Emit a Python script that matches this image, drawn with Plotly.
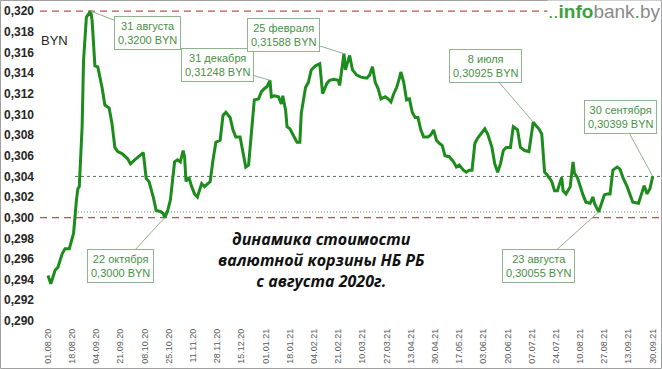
import plotly.graph_objects as go

# ---------------- data ----------------
dates = [
    "2020-08-01", "2020-08-03", "2020-08-06", "2020-08-08", "2020-08-11", "2020-08-13", "2020-08-16",
    "2020-08-19", "2020-08-21", "2020-08-22", "2020-08-23", "2020-08-25", "2020-08-26", "2020-08-28",
    "2020-08-29", "2020-08-31",
    "2020-09-01", "2020-09-02", "2020-09-03", "2020-09-05", "2020-09-08", "2020-09-10", "2020-09-13",
    "2020-09-15", "2020-09-17", "2020-09-19", "2020-09-22", "2020-09-26", "2020-09-28",
    "2020-10-01", "2020-10-04", "2020-10-07", "2020-10-09", "2020-10-11", "2020-10-14", "2020-10-16",
    "2020-10-19", "2020-10-21", "2020-10-22", "2020-10-24", "2020-10-26", "2020-10-28", "2020-10-29",
    "2020-10-31",
    "2020-11-02", "2020-11-04", "2020-11-05", "2020-11-06", "2020-11-08", "2020-11-10", "2020-11-12",
    "2020-11-14", "2020-11-17", "2020-11-19", "2020-11-23", "2020-11-25", "2020-11-27", "2020-11-30",
    "2020-12-02", "2020-12-04", "2020-12-07", "2020-12-09", "2020-12-11", "2020-12-14", "2020-12-16",
    "2020-12-18", "2020-12-20", "2020-12-22", "2020-12-24", "2020-12-27", "2020-12-29", "2020-12-31",
    "2021-01-02", "2021-01-04", "2021-01-05", "2021-01-07", "2021-01-10", "2021-01-12", "2021-01-13",
    "2021-01-15", "2021-01-16", "2021-01-18", "2021-01-20", "2021-01-23", "2021-01-25", "2021-01-26",
    "2021-01-29", "2021-01-31",
    "2021-02-02", "2021-02-05", "2021-02-08", "2021-02-10", "2021-02-13", "2021-02-15", "2021-02-18",
    "2021-02-21", "2021-02-22", "2021-02-25", "2021-02-26", "2021-02-28",
    "2021-03-01", "2021-03-03", "2021-03-06", "2021-03-09", "2021-03-13", "2021-03-15", "2021-03-17",
    "2021-03-19", "2021-03-21", "2021-03-23", "2021-03-26", "2021-03-28", "2021-03-30",
    "2021-04-01", "2021-04-03", "2021-04-05", "2021-04-06", "2021-04-08", "2021-04-10", "2021-04-12",
    "2021-04-14", "2021-04-16", "2021-04-18", "2021-04-20", "2021-04-22", "2021-04-25", "2021-04-27",
    "2021-04-29",
    "2021-05-01", "2021-05-03", "2021-05-05", "2021-05-07", "2021-05-10", "2021-05-13", "2021-05-15",
    "2021-05-17", "2021-05-20", "2021-05-22", "2021-05-24", "2021-05-26", "2021-05-28", "2021-05-30",
    "2021-06-02", "2021-06-04", "2021-06-06", "2021-06-09", "2021-06-11", "2021-06-13", "2021-06-15",
    "2021-06-17", "2021-06-19", "2021-06-22", "2021-06-24", "2021-06-27", "2021-06-29",
    "2021-07-02", "2021-07-05", "2021-07-08", "2021-07-10", "2021-07-12", "2021-07-14", "2021-07-16",
    "2021-07-18", "2021-07-21", "2021-07-23", "2021-07-25", "2021-07-28", "2021-07-29", "2021-07-31",
    "2021-08-03", "2021-08-05", "2021-08-06", "2021-08-08", "2021-08-10", "2021-08-12", "2021-08-14",
    "2021-08-17", "2021-08-19", "2021-08-20", "2021-08-23", "2021-08-25", "2021-08-27", "2021-08-29",
    "2021-08-31",
    "2021-09-02", "2021-09-05", "2021-09-07", "2021-09-09", "2021-09-12", "2021-09-14", "2021-09-16",
    "2021-09-20", "2021-09-22", "2021-09-24", "2021-09-26", "2021-09-28", "2021-09-30",
]
basket = [
    0.2944, 0.2936, 0.2949, 0.2952, 0.2965, 0.2970, 0.2970,
    0.2985, 0.3017, 0.3028, 0.3030, 0.3088, 0.3152, 0.3194,
    0.3196, 0.3200,
    0.3191, 0.3172, 0.3147, 0.3146, 0.3126, 0.3109, 0.3106,
    0.3091, 0.3068, 0.3064, 0.3062, 0.3057, 0.3052,
    0.3056, 0.3060, 0.3063, 0.3038, 0.3035, 0.3020, 0.3007,
    0.3006, 0.3004, 0.3000, 0.3006, 0.3017, 0.3039, 0.3054,
    0.3056,
    0.3054, 0.3065, 0.3059, 0.3035, 0.3039, 0.3030, 0.3023,
    0.3020, 0.3033, 0.3030, 0.3035, 0.3056, 0.3073, 0.3075,
    0.3099, 0.3102, 0.3097, 0.3085, 0.3078, 0.3078, 0.3065,
    0.3049, 0.3051, 0.3081, 0.3114, 0.3115, 0.3122, 0.31248,
    0.3127, 0.3133, 0.3117, 0.3118, 0.3117, 0.3110, 0.3118,
    0.3104, 0.3088, 0.3086, 0.3081, 0.3073, 0.3073, 0.3101,
    0.3126, 0.3131,
    0.3143, 0.3147, 0.3149, 0.3120, 0.3130, 0.3133, 0.3134,
    0.3133, 0.3128, 0.31588, 0.3143, 0.3151,
    0.3157, 0.3143, 0.3138, 0.3136, 0.3135, 0.3138, 0.3146,
    0.3131, 0.3125, 0.3115, 0.3117, 0.3115, 0.3112,
    0.3120, 0.3126, 0.3135, 0.3141, 0.3131, 0.3114, 0.3115,
    0.3102, 0.3097, 0.3097, 0.3085, 0.3078, 0.3078, 0.3080,
    0.3085,
    0.3075, 0.3072, 0.3070, 0.3060, 0.3059, 0.3054, 0.3049,
    0.3051, 0.3046, 0.3044, 0.3046, 0.3046, 0.3072, 0.3077,
    0.3083, 0.3086, 0.3081, 0.3068, 0.3052, 0.3044, 0.3052,
    0.3065, 0.3068, 0.3068, 0.3088, 0.3085, 0.3068,
    0.3065, 0.3064, 0.30925, 0.3089, 0.3086, 0.3081, 0.3044,
    0.3041, 0.3035, 0.3026, 0.3026, 0.3039, 0.3026, 0.3023,
    0.3030, 0.3054, 0.3043, 0.3039, 0.3030, 0.3022, 0.3015,
    0.3014, 0.3020, 0.3014, 0.30055, 0.3014, 0.3022, 0.3023,
    0.3023,
    0.3046, 0.3049, 0.3047, 0.3039, 0.3030, 0.3023, 0.3015,
    0.3014, 0.3023, 0.3031, 0.3023, 0.3028, 0.30399,
]

tick_dates = [
    "2020-08-01", "2020-08-18", "2020-09-04", "2020-09-21", "2020-10-08", "2020-10-25",
    "2020-11-11", "2020-11-28", "2020-12-15", "2021-01-01", "2021-01-18", "2021-02-04",
    "2021-02-21", "2021-03-10", "2021-03-27", "2021-04-13", "2021-04-30", "2021-05-17",
    "2021-06-03", "2021-06-20", "2021-07-07", "2021-07-24", "2021-08-10", "2021-08-27",
    "2021-09-13", "2021-09-30",
]
tick_labels = [
    "01.08.20", "18.08.20", "04.09.20", "21.09.20", "08.10.20", "25.10.20",
    "11.11.20", "28.11.20", "15.12.20", "01.01.21", "18.01.21", "04.02.21",
    "21.02.21", "10.03.21", "27.03.21", "13.04.21", "30.04.21", "17.05.21",
    "03.06.21", "20.06.21", "07.07.21", "24.07.21", "10.08.21", "27.08.21",
    "13.09.21", "30.09.21",
]
y_ticks = [0.290, 0.292, 0.294, 0.296, 0.298, 0.300, 0.302, 0.304, 0.306, 0.308,
           0.310, 0.312, 0.314, 0.316, 0.318, 0.320]
y_tick_labels = ["0,290", "0,292", "0,294", "0,296", "0,298", "0,300", "0,302", "0,304",
                 "0,306", "0,308", "0,310", "0,312", "0,314", "0,316", "0,318", "0,320"]

max_level = 0.320
min_level = 0.300
last_level = 0.30399
recent_min_level = 0.30055
ref_line_start = "2020-08-20"

# callouts: point date, point value, text, box offset (pixels)
callout_dates = ["2020-08-31", "2021-01-04", "2021-02-25", "2021-07-08", "2021-09-30",
                 "2020-10-22", "2021-08-23"]
callout_values = [0.3200, 0.3133, 0.31588, 0.30925, 0.30399, 0.3000, 0.30055]
callout_texts = [
    "31 августа<br>0,3200 BYN",
    "31 декабря<br>0,31248 BYN",
    "25 февраля<br>0,31588 BYN",
    "8 июля<br>0,30925 BYN",
    "30 сентября<br>0,30399 BYN",
    "22 октября<br>0,3000 BYN",
    "23 августа<br>0,30055 BYN",
]
callout_ax = [57, -52, -60, -48, -32, -44, -60]
callout_ay = [22, -15, -19, -56, -59, 48, 54]

# ---------------- figure ----------------
W, H = 662, 369
ML, MR, MT, MB = 40, 2, 9, 46
PW, PH = W - ML - MR, H - MT - MB


def px_x(p):
    return (p - ML) / PW


def px_y(p):
    return (H - MB - p) / PH


fig = go.Figure()
fig.add_trace(go.Scatter(
    x=dates, y=basket, mode="lines",
    line=dict(color="#1c8c1c", width=3),
    hoverinfo="skip", showlegend=False,
))

shapes = [
    dict(type="line", xref="paper", yref="y", x0=0, x1=1, y0=max_level, y1=max_level,
         line=dict(color="#c0504d", width=1.2, dash="7px,5px"), layer="below"),
    dict(type="line", xref="paper", yref="y", x0=0, x1=1, y0=min_level, y1=min_level,
         line=dict(color="#c0504d", width=1.2, dash="7px,5px"), layer="below"),
    dict(type="line", xref="x", yref="y", x0=ref_line_start, x1="2021-10-06",
         y0=last_level, y1=last_level,
         line=dict(color="#5a6e5a", width=1, dash="3px,3px"), layer="below"),
    dict(type="line", xref="x", yref="y", x0=ref_line_start, x1="2021-10-06",
         y0=recent_min_level, y1=recent_min_level,
         line=dict(color="#7a7a7a", width=1, dash="1px,2px"), layer="below"),
    dict(type="rect", xref="paper", yref="paper",
         x0=px_x(0.5), x1=px_x(W - 0.5), y0=px_y(H - 0.5), y1=px_y(0.5),
         line=dict(color="#a0a0a0", width=1), fillcolor="rgba(0,0,0,0)"),
]

annotations = []
for d, v, t, ax, ay in zip(callout_dates, callout_values, callout_texts, callout_ax, callout_ay):
    annotations.append(dict(
        x=d, y=v, xref="x", yref="y", text=t, showarrow=True,
        ax=ax, ay=ay, arrowhead=0, arrowwidth=1, arrowcolor="#8fb08f", standoff=0,
        font=dict(family="Liberation Sans, Arial", size=11, color="#4a8f45"),
        bgcolor="white", bordercolor="#8fb58f", borderwidth=1, borderpad=3,
        align="center",
    ))

annotations.append(dict(
    xref="paper", yref="paper", x=px_x(321), y=px_y(260),
    text="<b><i>динамика стоимости<br>валютной корзины НБ РБ<br>с августа 2020г.</i></b>",
    showarrow=False, xanchor="center", yanchor="middle", align="center",
    font=dict(family="Open Sans, Liberation Sans", size=16, color="#111111"),
))
annotations.append(dict(
    xref="paper", yref="paper", x=px_x(54.5), y=px_y(41),
    text="BYN", showarrow=False, xanchor="center", yanchor="middle",
    font=dict(family="Liberation Sans, Arial", size=13, color="#262626"),
))
annotations.append(dict(
    xref="paper", yref="paper", x=px_x(661), y=px_y(0.5),
    text=('<span style="color:#3f9e3f">..<b>info</b></span>'
          '<span style="color:#8a8a8a">bank</span>'
          '<span style="color:#3f9e3f">.</span>'
          '<span style="color:#8a8a8a">by</span>'),
    showarrow=False, xanchor="right", yanchor="top",
    font=dict(family="Liberation Sans, Arial", size=19),
    bgcolor="white", borderpad=0,
))

fig.update_layout(
    width=W, height=H,
    margin=dict(l=ML, r=MR, t=MT, b=MB, pad=0),
    paper_bgcolor="white", plot_bgcolor="white",
    shapes=shapes, annotations=annotations,
    showlegend=False,
    xaxis=dict(
        type="date",
        range=["2020-07-26 09:36", "2021-10-05 02:24"],
        tickmode="array", tickvals=tick_dates, ticktext=tick_labels,
        tickangle=-90, ticks="", showgrid=False, zeroline=False, showline=False,
        tickfont=dict(family="Liberation Sans, Arial", size=9, color="#595959"),
        ticklabelstandoff=3,
    ),
    yaxis=dict(
        range=[0.2898, 0.3202],
        tickmode="array", tickvals=y_ticks, ticktext=y_tick_labels,
        ticks="", showgrid=False, zeroline=False, showline=False,
        tickfont=dict(family="Liberation Sans, Arial", size=12, color="#262626", weight="bold"),
        ticklabelstandoff=5,
    ),
)

fig.write_html(
    "out.html",
    config={"displayModeBar": False},
    post_script="document.body.style.margin='0';document.body.style.padding='0';"
                "document.body.style.overflow='hidden';",
)
